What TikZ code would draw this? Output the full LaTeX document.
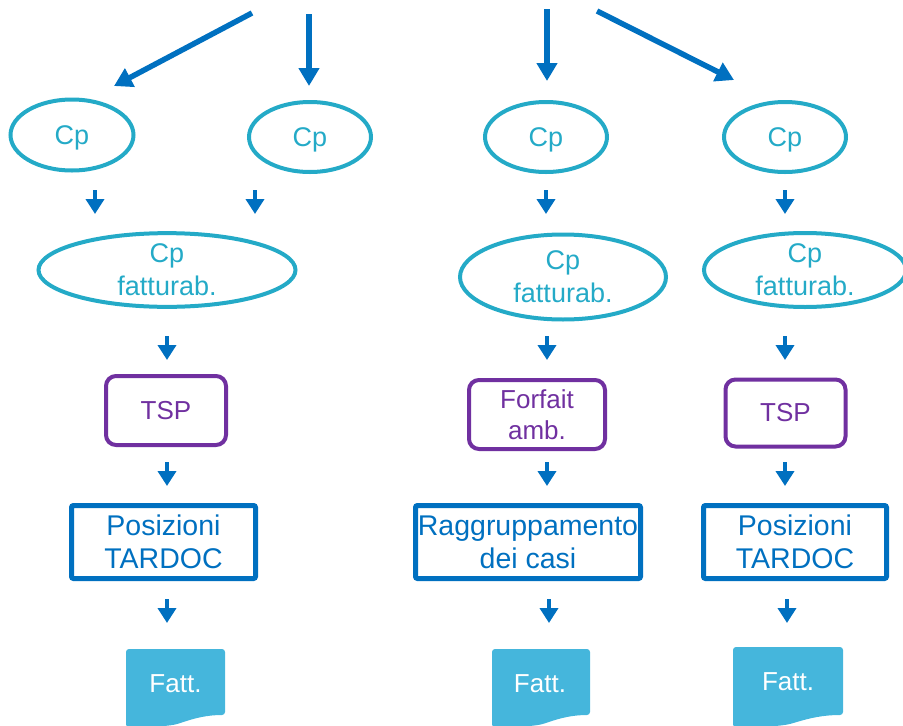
\documentclass[tikz,border=0pt]{standalone}
\usepackage{fontspec}
\setmainfont{Liberation Sans}
\usetikzlibrary{arrows.meta,shapes.geometric}
\definecolor{arrblue}{RGB}{0,112,192}
\definecolor{tealc}{RGB}{36,170,199}
\definecolor{purp}{RGB}{112,48,160}
\definecolor{fattfill}{RGB}{69,182,220}
\tikzset{
 bigarrow/.style={draw=arrblue, line width=5.5pt, -{Triangle[width=20pt,length=18pt]}},
 smallarrow/.style={draw=arrblue, line width=4pt, -{Triangle[width=18pt,length=15pt]}},
 cpell/.style={ellipse, draw=tealc, line width=4pt, text=tealc, inner sep=0pt, font=\fontsize{27}{33}\selectfont, align=center},
 cpone/.style={cpell, text height=19pt, text depth=0pt},
 tspbox/.style={rectangle, rounded corners=10pt, draw=purp, line width=4pt, text=purp, inner sep=0pt, font=\fontsize{26}{31}\selectfont, align=center},
 posbox/.style={rectangle, rounded corners=2pt, draw=arrblue, line width=5pt, text=arrblue, inner sep=0pt, font=\fontsize{28.5}{33}\selectfont, align=center},
 fatttext/.style={text=white, font=\fontsize{26}{30}\selectfont, inner sep=0pt},
 fattshape/.style={fill=fattfill, rounded corners=3pt}
}
\begin{document}
\begin{tikzpicture}[x=1pt,y=-1pt]
\useasboundingbox (0,0) rectangle (903,726);
% ellipses row 1
\node[cpone, minimum width=123pt, minimum height=71pt] (e1) at (72,135) {Cp};
\node[cpone, minimum width=122pt, minimum height=70pt] (e2) at (310,137) {Cp};
\node[cpone, minimum width=122pt, minimum height=70pt] (e3) at (546,137) {Cp};
\node[cpone, minimum width=122pt, minimum height=70pt] (e4) at (785,137) {Cp};
% ellipses row 2
\node[cpell, minimum width=257pt, minimum height=73pt] (e5) at (167,270) {Cp\\fatturab.};
\node[cpell, minimum width=206pt, minimum height=85pt] (e6) at (563,277) {Cp\\fatturab.};
\node[cpell, minimum width=202pt, minimum height=74pt] (e7) at (805,270) {Cp\\fatturab.};
% purple boxes
\node[tspbox, minimum width=120pt, minimum height=69pt] (p1) at (166,410.5) {TSP};
\node[tspbox, minimum width=136pt, minimum height=69pt] (p2) at (537,414.5) {Forfait\\amb.};
\node[tspbox, minimum width=120pt, minimum height=67pt] (p3) at (785.5,413) {TSP};
% blue boxes
\node[posbox, minimum width=184pt, minimum height=73pt] (b1) at (163.5,542) {Posizioni\\TARDOC};
\node[posbox, minimum width=225pt, minimum height=73pt] (b2) at (528,542) {Raggruppamento\\dei casi};
\node[posbox, minimum width=183pt, minimum height=73pt] (b3) at (795,542) {Posizioni\\TARDOC};
% Fatt. documents
\begin{scope}[shift={(126,649)}, xscale=0.99]
\fill[fattshape] (0,78) -- (0,0) -- (100,0) -- (100,66) .. controls (82,66) and (70,69) .. (55,74) .. controls (45,77) and (30,78) .. (0,78) -- cycle;
\end{scope}
\begin{scope}[shift={(492,649)}, xscale=0.98]
\fill[fattshape] (0,78) -- (0,0) -- (100,0) -- (100,66) .. controls (82,66) and (70,69) .. (55,74) .. controls (45,77) and (30,78) .. (0,78) -- cycle;
\end{scope}
\begin{scope}[shift={(733,647)}, xscale=1.10]
\fill[fattshape] (0,80) -- (0,0) -- (100,0) -- (100,68) .. controls (82,68) and (70,71) .. (55,76) .. controls (45,79) and (30,80) .. (0,80) -- cycle;
\end{scope}
\node[fatttext, anchor=base] (f1) at (175.5,692) {Fatt.};
\node[fatttext, anchor=base] (f2) at (540,692) {Fatt.};
\node[fatttext, anchor=base] (f3) at (788,690) {Fatt.};
% top arrows
\coordinate (a1s) at (252,13); \coordinate (a1e) at (114,86);
\coordinate (a2s) at (309,14); \coordinate (a2e) at (309,86);
\coordinate (a3s) at (547,9);  \coordinate (a3e) at (547,81);
\coordinate (a4s) at (597,11); \coordinate (a4e) at (734,80);
\draw[bigarrow] (a1s) -- (a1e);
\draw[bigarrow] (a2s) -- (a2e);
\draw[bigarrow] (a3s) -- (a3e);
\draw[bigarrow] (a4s) -- (a4e);
% small arrows
\foreach \n/\x/\ya/\yb in {r1a/95/190/214, r1b/255/190/214, r1c/546/190/214, r1d/785/190/214,
  r2a/167/336/360, r2b/547/336/360, r2c/785/336/360,
  r3a/167/462/486, r3b/547/462/486, r3c/785/462/486,
  r4a/167/599/623, r4b/549/599/623, r4c/787/599/623}{
  \coordinate (\n s) at (\x,\ya);
  \coordinate (\n e) at (\x,\yb);
  \draw[smallarrow] (\n s) -- (\n e);
}
\end{tikzpicture}
\end{document}
